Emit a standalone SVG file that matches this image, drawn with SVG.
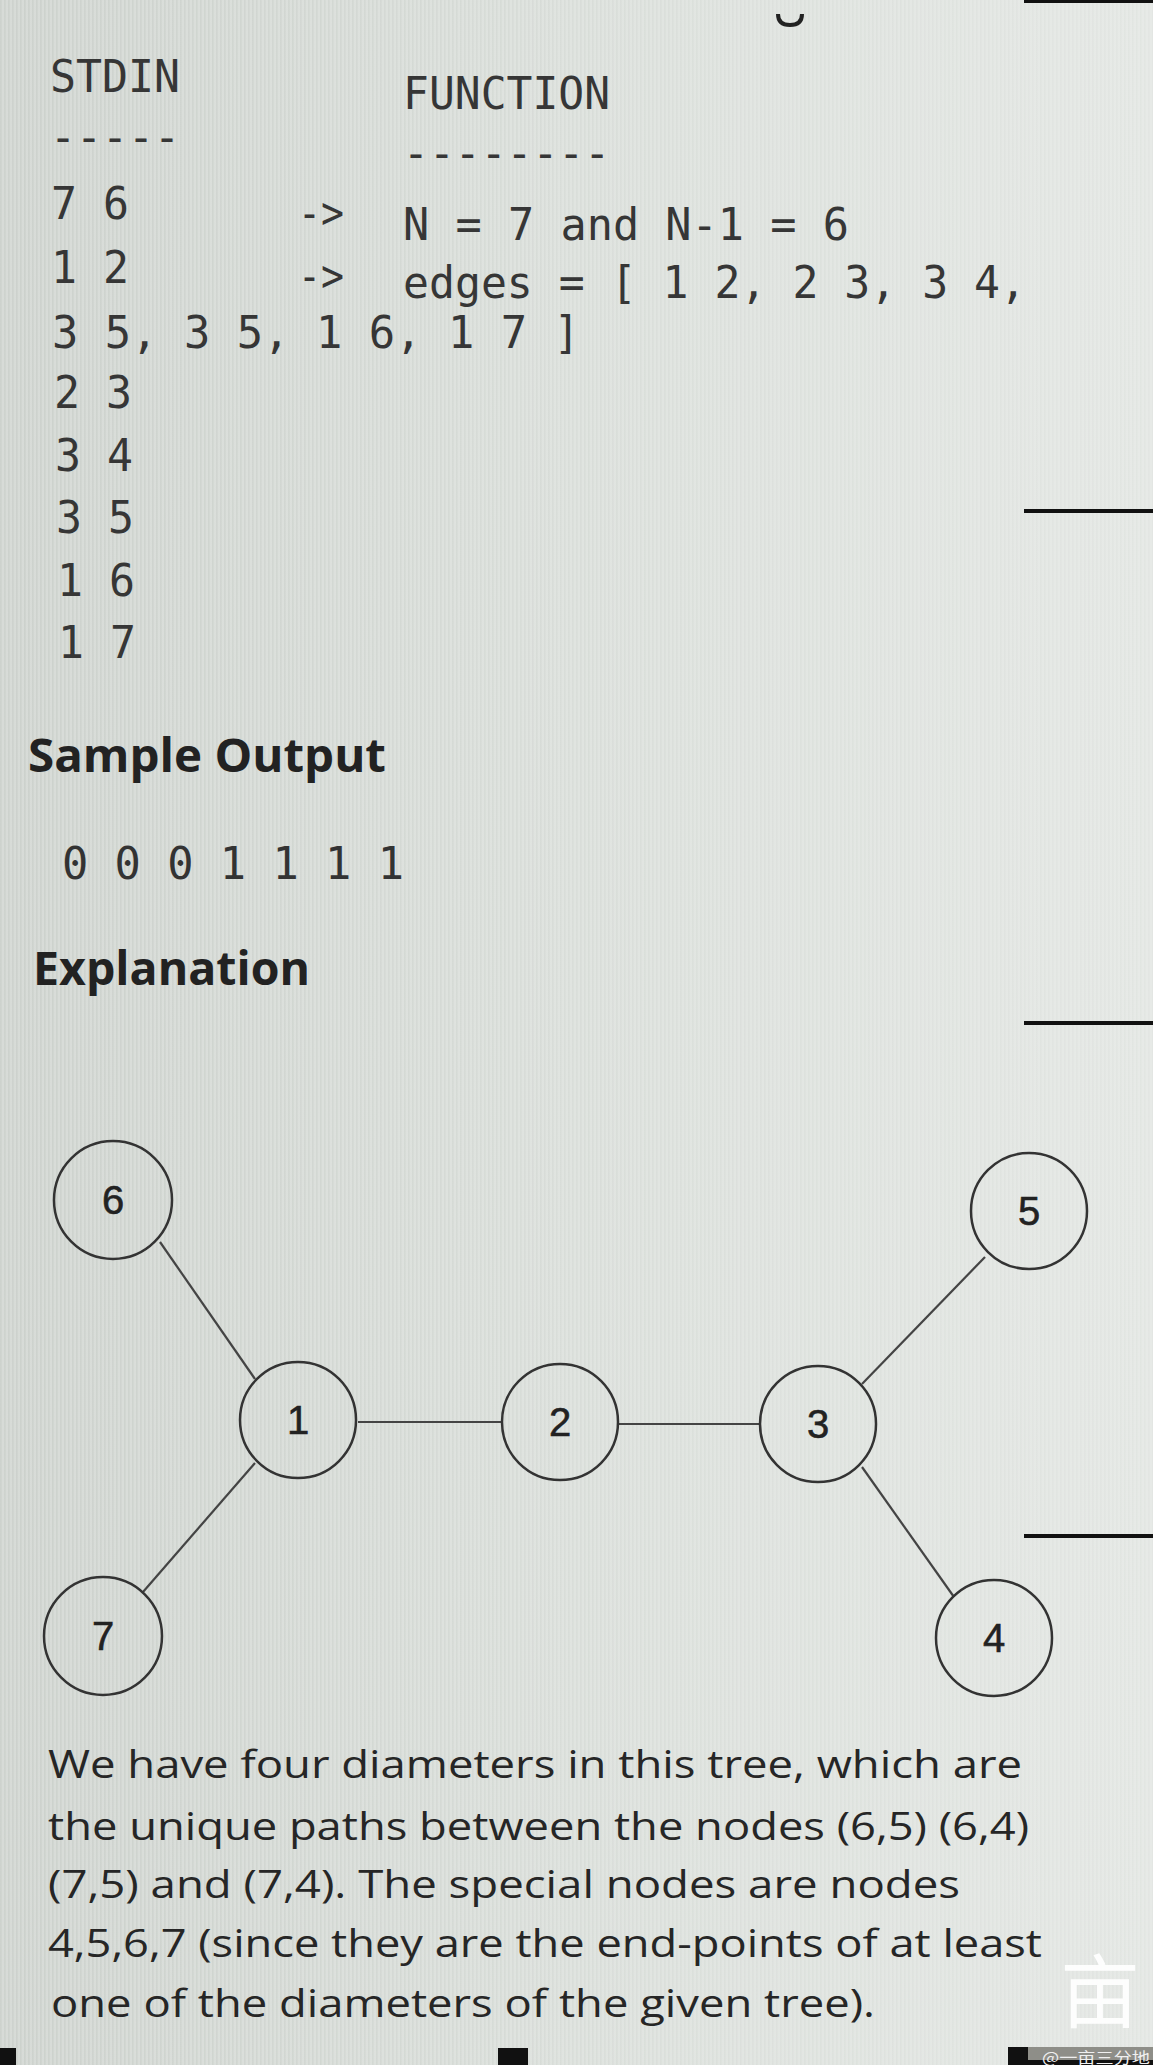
<svg xmlns="http://www.w3.org/2000/svg" width="1153" height="2065" viewBox="0 0 1153 2065">
  <defs>
    <linearGradient id="bg" x1="0" y1="0" x2="1" y2="0">
      <stop offset="0" stop-color="#d7dbd7"/>
      <stop offset="0.5" stop-color="#e0e4e0"/>
      <stop offset="1" stop-color="#e7eae7"/>
    </linearGradient>
    <linearGradient id="fade" x1="0" y1="0" x2="1" y2="0">
      <stop offset="0" stop-color="#fff" stop-opacity="1"/>
      <stop offset="0.6" stop-color="#fff" stop-opacity="0.35"/>
      <stop offset="1" stop-color="#fff" stop-opacity="0.2"/>
    </linearGradient>
    <mask id="stripeMask">
      <rect x="0" y="0" width="1153" height="2065" fill="url(#fade)"/>
    </mask>
    <pattern id="stripes" x="0" y="0" width="4" height="10" patternUnits="userSpaceOnUse">
      <rect x="0" y="0" width="1.6" height="10" fill="#c5cac5" fill-opacity="0.55"/>
    </pattern>
    <style>
      .mono { font-family: "DejaVu Sans Mono", "Liberation Mono", monospace; font-size: 44px; fill: #363636; }
      .out { font-family: "DejaVu Sans Mono", "Liberation Mono", monospace; font-size: 44px; fill: #333; }
      .head { font-family: "Open Sans", "Noto Sans", sans-serif; font-weight: bold; font-size: 47px; fill: #222; }
      .para { font-family: "Open Sans", "Noto Sans", sans-serif; font-size: 38px; fill: #262626; }
      .node circle { fill: none; stroke: #333; stroke-width: 2.5; }
      .node text { font-family: "Liberation Sans", Arial, sans-serif; font-size: 40px; fill: #222; stroke: #222; stroke-width: 0.6; text-anchor: middle; }
      .edges line { stroke: #444; stroke-width: 2.2; }
      .bar { fill: #111; }
    </style>
  </defs>

  <rect x="0" y="0" width="1153" height="2065" fill="url(#bg)"/>
  <rect x="0" y="0" width="1153" height="2065" fill="url(#stripes)" mask="url(#stripeMask)"/>

  <!-- right-edge marks -->
  <rect class="bar" x="1024" y="0" width="129" height="3"/>
  <rect class="bar" x="1024" y="509" width="129" height="4"/>
  <rect class="bar" x="1024" y="1021" width="129" height="4"/>
  <rect class="bar" x="1024" y="1534" width="129" height="4"/>
  <path d="M778 14 Q778 25 790 25 Q802 25 802 14" fill="none" stroke="#222" stroke-width="4"/>

  <!-- input block -->
  <g id="stdin-block">
    <text class="mono" x="50" y="92" textLength="130" lengthAdjust="spacingAndGlyphs">STDIN</text>
    <text class="mono" x="50" y="152" textLength="130" lengthAdjust="spacingAndGlyphs">-----</text>
    <text class="mono" x="403" y="109" textLength="207" lengthAdjust="spacingAndGlyphs">FUNCTION</text>
    <text class="mono" x="403" y="168" textLength="207" lengthAdjust="spacingAndGlyphs">--------</text>
    <text class="mono" x="51" y="219" textLength="78" lengthAdjust="spacingAndGlyphs">7 6</text>
    <text class="mono" x="298" y="228" textLength="46" lengthAdjust="spacingAndGlyphs">-&gt;</text>
    <text class="mono" x="403" y="240" textLength="446" lengthAdjust="spacingAndGlyphs">N = 7 and N-1 = 6</text>
    <text class="mono" x="51" y="283" textLength="78" lengthAdjust="spacingAndGlyphs">1 2</text>
    <text class="mono" x="298" y="291" textLength="46" lengthAdjust="spacingAndGlyphs">-&gt;</text>
    <text class="mono" x="403" y="298" textLength="623" lengthAdjust="spacingAndGlyphs">edges = [ 1 2, 2 3, 3 4,</text>
    <text class="mono" x="52" y="348" textLength="528" lengthAdjust="spacingAndGlyphs">3 5, 3 5, 1 6, 1 7 ]</text>
    <text class="mono" x="54" y="408" textLength="78" lengthAdjust="spacingAndGlyphs">2 3</text>
    <text class="mono" x="55" y="471" textLength="78" lengthAdjust="spacingAndGlyphs">3 4</text>
    <text class="mono" x="56" y="533" textLength="78" lengthAdjust="spacingAndGlyphs">3 5</text>
    <text class="mono" x="57" y="596" textLength="78" lengthAdjust="spacingAndGlyphs">1 6</text>
    <text class="mono" x="58" y="658" textLength="78" lengthAdjust="spacingAndGlyphs">1 7</text>
  </g>

  <g id="sample-output">
    <text class="head" x="28" y="772" textLength="358" lengthAdjust="spacingAndGlyphs">Sample Output</text>
    <text class="out" x="62" y="879" textLength="342" lengthAdjust="spacingAndGlyphs">0 0 0 1 1 1 1</text>
  </g>

  <g id="explanation-title">
    <text class="head" x="33" y="985" textLength="277" lengthAdjust="spacingAndGlyphs">Explanation</text>
  </g>

  <!-- connectors -->
  <g id="edges" class="edges">
    <line x1="160" y1="1242" x2="255" y2="1379"/>
    <line x1="255" y1="1463" x2="143" y2="1592"/>
    <line x1="358" y1="1422" x2="502" y2="1422"/>
    <line x1="618" y1="1424" x2="760" y2="1424"/>
    <line x1="862" y1="1384" x2="985" y2="1257"/>
    <line x1="862" y1="1467" x2="954" y2="1597"/>
  </g>

  <!-- nodes -->
  <g id="node-6" class="node"><circle cx="113" cy="1200" r="59"/><text x="113" y="1214">6</text></g>
  <g id="node-5" class="node"><circle cx="1029" cy="1211" r="58"/><text x="1029" y="1225">5</text></g>
  <g id="node-1" class="node"><circle cx="298" cy="1420" r="58"/><text x="298" y="1434">1</text></g>
  <g id="node-2" class="node"><circle cx="560" cy="1422" r="58"/><text x="560" y="1436">2</text></g>
  <g id="node-3" class="node"><circle cx="818" cy="1424" r="58"/><text x="818" y="1438">3</text></g>
  <g id="node-7" class="node"><circle cx="103" cy="1636" r="59"/><text x="103" y="1650">7</text></g>
  <g id="node-4" class="node"><circle cx="994" cy="1638" r="58"/><text x="994" y="1652">4</text></g>

  <!-- paragraph -->
  <g id="paragraph">
    <text class="para" x="48" y="1778" textLength="974" lengthAdjust="spacingAndGlyphs">We have four diameters in this tree, which are</text>
    <text class="para" x="48" y="1840" textLength="981" lengthAdjust="spacingAndGlyphs">the unique paths between the nodes (6,5) (6,4)</text>
    <text class="para" x="48" y="1898" textLength="912" lengthAdjust="spacingAndGlyphs">(7,5) and (7,4). The special nodes are nodes</text>
    <text class="para" x="48" y="1957" textLength="994" lengthAdjust="spacingAndGlyphs">4,5,6,7 (since they are the end-points of at least</text>
    <text class="para" x="51" y="2017" textLength="824" lengthAdjust="spacingAndGlyphs">one of the diameters of the given tree).</text>
  </g>

  <!-- bottom marks and watermark -->
  <rect class="bar" x="0" y="2048" width="16" height="17"/>
  <rect class="bar" x="498" y="2048" width="30" height="17"/>
  <rect class="bar" x="1008" y="2047" width="145" height="18"/>
  <rect x="1028" y="2047" width="125" height="13" fill="#8e8e88"/>
  <text x="1042" y="2063" textLength="108" lengthAdjust="spacingAndGlyphs" font-family="'Noto Sans CJK SC', sans-serif" font-size="15" fill="#f0f0f0">@一亩三分地</text>
  <text x="1060" y="2021" font-family="'Noto Sans CJK SC', sans-serif" font-size="80" fill="#ffffff" fill-opacity="0.92">亩</text>
</svg>
